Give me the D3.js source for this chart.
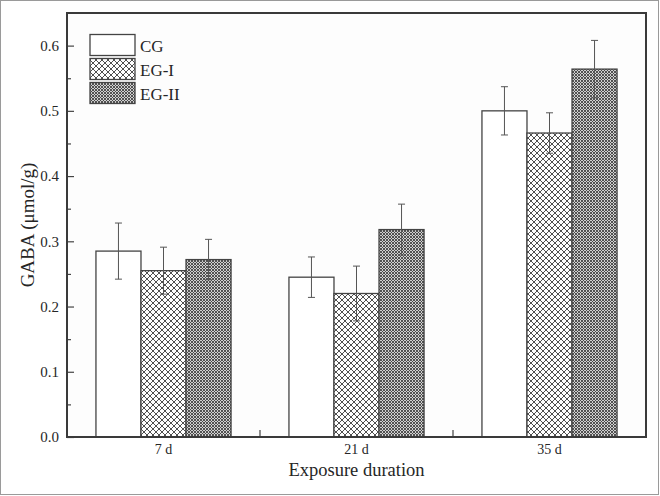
<!DOCTYPE html>
<html><head><meta charset="utf-8">
<script src="https://cdn.jsdelivr.net/npm/d3@7"></script>
<style>body{margin:0;background:#fff}</style>
</head><body><svg id="c" width="660" height="496"></svg>
<script>
const categories = ["7 d", "21 d", "35 d"];
const groups = ["CG", "EG-I", "EG-II"];
const cgValues = [0.285, 0.245, 0.500];
const cgErrors = [0.043, 0.031, 0.037];
const eg1Values = [0.255, 0.220, 0.466];
const eg1Errors = [0.036, 0.042, 0.031];
const eg2Values = [0.272, 0.318, 0.564];
const eg2Errors = [0.031, 0.039, 0.044];
const yMajorTicks = [0, 0.1, 0.2, 0.3, 0.4, 0.5, 0.6];
const yMinorTicks = [0.05, 0.15, 0.25, 0.35, 0.45, 0.55];
const yTitle = "GABA (μmol/g)";
const xTitle = "Exposure duration";

const seriesValues = [cgValues, eg1Values, eg2Values];
const seriesErrors = [cgErrors, eg1Errors, eg2Errors];
const fills = ["#fff", "url(#p1)", "url(#p2)"];

const svg = d3.select("#c");
const font = "'Liberation Serif', 'Times New Roman', serif";
const ink = "#262626";

// outer border
svg.append("rect").attr("x", 0.5).attr("y", 0.5).attr("width", 658).attr("height", 494)
  .attr("fill", "#fff").attr("stroke", "#9a9a9a").attr("stroke-width", 1);

const defs = svg.append("defs");
const p1 = defs.append("pattern").attr("id", "p1").attr("patternUnits", "userSpaceOnUse")
  .attr("width", 6).attr("height", 6);
p1.append("rect").attr("width", 6).attr("height", 6).attr("fill", "#fff");
p1.append("path").attr("d", "M0,0L6,6M6,0L0,6M-1,5L1,7M5,-1L7,1M-1,1L1,-1M5,7L7,5")
  .attr("stroke", "#505050").attr("stroke-width", 1).attr("fill", "none");
const p2 = defs.append("pattern").attr("id", "p2").attr("patternUnits", "userSpaceOnUse")
  .attr("width", 3).attr("height", 3);
p2.append("rect").attr("width", 3).attr("height", 3).attr("fill", "#d0d0d0");
p2.append("path").attr("d", "M0,0L3,3M3,0L0,3")
  .attr("stroke", "#444").attr("stroke-width", 0.9).attr("fill", "none");

const L = 67, R = 646, T = 13, B = 437;
const x = d3.scaleBand().domain(categories).range([L, R]).paddingInner(0).paddingOuter(0);
const bw = x.bandwidth();
const xi = d3.scaleBand().domain(groups).range([bw * 0.15, bw * 0.85]).padding(0);
const y = d3.scaleLinear().domain([0, 0.65]).range([B, T]);

svg.append("rect").attr("x", L).attr("y", T).attr("width", R - L).attr("height", B - T)
  .attr("fill", "#fdfdfd");

// bars
groups.forEach((g, gi) => {
  const gsel = svg.append("g");
  categories.forEach((c, ci) => {
    const v = seriesValues[gi][ci];
    gsel.append("rect")
      .attr("x", x(c) + xi(g)).attr("y", y(v))
      .attr("width", xi.bandwidth()).attr("height", y(0) - y(v))
      .attr("fill", fills[gi]).attr("stroke", "#444").attr("stroke-width", 1.3);
  });
});

// error bars
groups.forEach((g, gi) => {
  categories.forEach((c, ci) => {
    const v = seriesValues[gi][ci], e = seriesErrors[gi][ci];
    const cx = x(c) + xi(g) + xi.bandwidth() / 2;
    const eb = svg.append("g").attr("stroke", "#555").attr("stroke-width", 1);
    eb.append("line").attr("x1", cx).attr("x2", cx).attr("y1", y(v + e)).attr("y2", y(v - e));
    eb.append("line").attr("x1", cx - 3.5).attr("x2", cx + 3.5).attr("y1", y(v + e)).attr("y2", y(v + e));
    eb.append("line").attr("x1", cx - 3.5).attr("x2", cx + 3.5).attr("y1", y(v - e)).attr("y2", y(v - e));
  });
});

// y axis
const yAx = svg.append("g").attr("transform", `translate(${L},0)`)
  .call(d3.axisLeft(y).tickValues(yMajorTicks).tickFormat(d3.format(".1f"))
    .tickSizeInner(-7).tickSizeOuter(0).tickPadding(8));
yAx.select(".domain").remove();
yAx.selectAll("line").attr("stroke", "#444").attr("stroke-width", 1.2);
yAx.selectAll("text").style("font-family", font).style("font-size", "15px").style("fill", ink);
const yMin = svg.append("g").attr("transform", `translate(${L},0)`)
  .call(d3.axisLeft(y).tickValues(yMinorTicks).tickFormat("").tickSizeInner(-4).tickSizeOuter(0));
yMin.select(".domain").remove();
yMin.selectAll("line").attr("stroke", "#444").attr("stroke-width", 1.2);

// x axis
const xAx = svg.append("g").attr("transform", `translate(0,${B})`)
  .call(d3.axisBottom(x).tickSize(0).tickPadding(7));
xAx.select(".domain").remove();
xAx.selectAll("text").style("font-family", font).style("font-size", "14px").style("fill", ink);
categories.slice(1).forEach(c => {
  svg.append("line").attr("x1", x(c)).attr("x2", x(c)).attr("y1", B).attr("y2", B - 7)
    .attr("stroke", "#444").attr("stroke-width", 1.2);
});

// frame
svg.append("rect").attr("x", L).attr("y", T).attr("width", R - L).attr("height", B - T)
  .attr("fill", "none").attr("stroke", "#3a3a3a").attr("stroke-width", 2);

// titles
svg.append("text").attr("x", (L + R) / 2).attr("y", 476).attr("text-anchor", "middle")
  .style("font-family", font).style("font-size", "18.5px").style("fill", ink).text(xTitle);
svg.append("text").attr("transform", `translate(34,${(T + B) / 2}) rotate(-90)`)
  .attr("text-anchor", "middle").style("font-family", font).style("font-size", "19px")
  .style("fill", ink).text(yTitle);

// legend
groups.forEach((g, gi) => {
  const ly = 34.5 + gi * 24;
  svg.append("rect").attr("x", 90).attr("y", ly).attr("width", 45).attr("height", 21)
    .attr("fill", fills[gi]).attr("stroke", "#444").attr("stroke-width", 1.3);
  svg.append("text").attr("x", 140).attr("y", ly + 17).style("font-family", font)
    .style("font-size", "17px").style("fill", ink).text(g);
});
</script></body></html>
